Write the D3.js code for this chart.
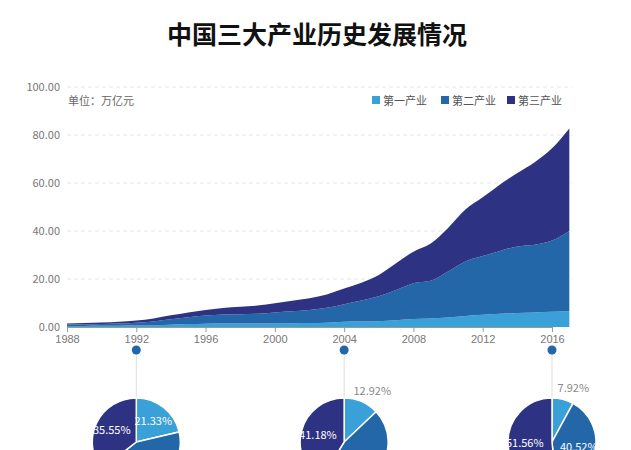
<!DOCTYPE html><html><head><meta charset="utf-8"><script src="https://d3js.org/d3.v7.min.js"></script>
<style>body{margin:0;background:#fff;font-family:"Noto Sans CJK SC","Noto Sans",sans-serif}</style></head><body>
<svg id="c" width="631" height="450"></svg>
<script>
const years=d3.range(1988,2018);
const primary=[0.38,0.42,0.50,0.53,0.58,0.69,0.95,1.20,1.40,1.44,1.48,1.48,1.49,1.58,1.65,1.74,2.14,2.24,2.40,2.86,3.37,3.52,3.94,4.62,5.09,5.53,5.80,6.09,6.37,6.55];
const secondary=[0.65,0.73,0.77,0.91,1.17,1.64,2.24,2.87,3.36,3.72,3.88,4.06,4.56,4.95,5.39,6.24,7.39,8.76,10.40,12.58,14.90,15.76,19.16,22.70,24.46,26.18,27.76,28.19,29.64,33.46];
const tertiary=[0.47,0.56,0.59,0.72,0.94,1.22,1.66,2.00,2.34,2.76,3.11,3.39,3.87,4.44,4.99,5.60,6.46,7.44,8.87,11.13,13.13,15.49,18.20,21.60,24.49,27.70,30.60,34.40,38.42,42.70];
const seriesNames=["第一产业","第二产业","第三产业"];
const colors=["#3aa0d8","#2467a9","#2e3283"];
const yTicks=[0,20,40,60,80,100];
const xTicks=[1988,1992,1996,2000,2004,2008,2012,2016];
const pieYears=[1992,2004,2016];
const pieValues=[[21.33,43.12,35.55],[12.92,45.90,41.18],[7.92,40.52,51.56]];

const svg=d3.select("#c");
const x=d3.scaleLinear().domain([1988,2016]).range([67,552]);
const y=d3.scaleLinear().domain([0,100]).range([327,87]);
svg.append("text").attr("x",317).attr("y",44).attr("text-anchor","middle").attr("font-size",25).attr("font-weight","bold").attr("fill","#111").text("中国三大产业历史发展情况");
yTicks.forEach(t=>{
  if(t>0)svg.append("line").attr("x1",67).attr("x2",572).attr("y1",y(t)).attr("y2",y(t)).attr("stroke","#e6e6e6").attr("stroke-dasharray","4,3");
  svg.append("text").attr("x",60).attr("y",y(t)+4).attr("text-anchor","end").attr("font-size",11).attr("fill","#777").text(t.toFixed(2));
});
const data=years.map((yr,i)=>({yr,a:primary[i],b:secondary[i],c:tertiary[i]}));
const stack=d3.stack().keys(["a","b","c"])(data);
const area=d3.area().x(d=>x(d.data.yr)).y0(d=>y(d[0])).y1(d=>y(d[1])).curve(d3.curveMonotoneX);
stack.forEach((s,i)=>svg.append("path").attr("d",area(s)).attr("fill",colors[i]));
const ax=svg.append("g").attr("transform","translate(0,327)").call(d3.axisBottom(x).tickValues(xTicks).tickFormat(d3.format("d")).tickSize(5));
ax.select(".domain").attr("stroke","#999");ax.selectAll("line").attr("stroke","#999");
ax.selectAll("text").attr("fill","#777").attr("font-size",11);
svg.append("text").attr("x",68).attr("y",105).attr("font-size",11).attr("fill","#666").text("单位：万亿元");
const lx=[372,441,507];
seriesNames.forEach((n,i)=>{
  svg.append("rect").attr("x",lx[i]).attr("y",96).attr("width",8).attr("height",8).attr("fill",colors[i]);
  svg.append("text").attr("x",lx[i]+11).attr("y",105).attr("font-size",11).attr("fill","#555").text(n);
});
const r=44,cy=442;
const pie=d3.pie().sort(null);
const arc=d3.arc().innerRadius(0).outerRadius(r);
pieYears.forEach((yr,k)=>{
  const cx=x(yr);
  svg.append("line").attr("x1",cx).attr("x2",cx).attr("y1",350).attr("y2",cy-r).attr("stroke","#ddd");
  svg.append("circle").attr("cx",cx).attr("cy",350).attr("r",4.5).attr("fill","#2467a9");
  const g=svg.append("g").attr("transform",`translate(${cx},${cy})`);
  const arcs=pie(pieValues[k]);
  g.selectAll("path").data(arcs).join("path").attr("d",arc).attr("fill",(d,i)=>colors[i]).attr("stroke","#fff").attr("stroke-width",1.5);
  arcs.forEach((d,i)=>{
    const v=pieValues[k][i];
    let p,fill="#fff";
    if(v<15){const a=(d.startAngle+d.endAngle)/2;p=[Math.sin(a)*(r+2)+10,-Math.cos(a)*(r+12)];fill="#888";}
    else p=d3.arc().innerRadius(r*0.62).outerRadius(r*0.62).centroid(d);
    g.append("text").attr("x",p[0]).attr("y",p[1]+4).attr("text-anchor","middle").attr("font-size",11).attr("fill",fill).text(v.toFixed(2)+"%");
  });
});
</script></body></html>
